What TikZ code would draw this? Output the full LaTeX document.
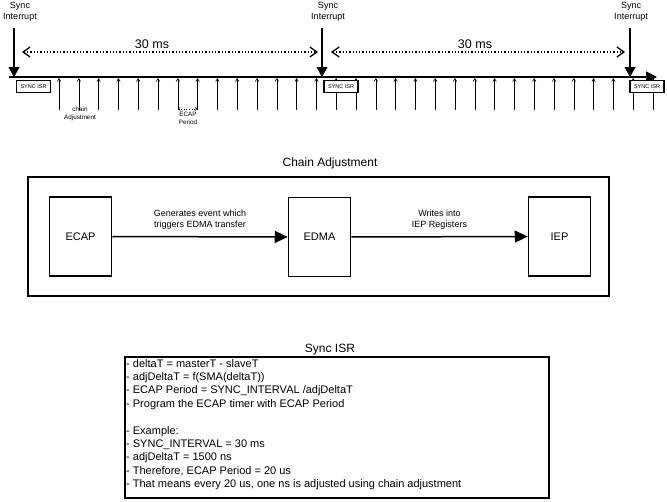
\documentclass[tikz,border=0pt]{standalone}
\usepackage{fontspec}
\setmainfont{Liberation Sans}
\usetikzlibrary{arrows.meta}
\begin{document}
\begin{tikzpicture}[
    x=1pt, y=-1pt,
    box/.style={draw, line width=1.5pt, minimum width=62pt, minimum height=79pt, font=\fontsize{11}{13}\selectfont},
    isrbox/.style={draw, line width=1.3pt, fill=white, minimum width=34pt, minimum height=12pt, inner sep=0pt, font=\fontsize{5.5}{6}\selectfont},
    lbl/.style={align=center, font=\fontsize{9}{11}\selectfont},
    small/.style={align=center, font=\fontsize{6.3}{8.5}\selectfont, inner sep=0pt},
    title/.style={font=\fontsize{12}{14}\selectfont},
    arrow/.style={-{Triangle[length=13pt,width=12pt]}, line width=1.5pt},
    sync/.style={-{Triangle[length=10pt,width=11pt]}, line width=1.3pt},
    tick/.style={-{Straight Barb[length=3pt,width=3.5pt]}, line width=0.6pt},
    span/.style={{Straight Barb[length=7pt,width=10pt]}-{Straight Barb[length=7pt,width=10pt]}, line width=1.3pt, dotted}
]
    \useasboundingbox (0,0) rectangle (667,501);

    % Timeline
    \coordinate (tl0) at (9,77);
    \coordinate (tl1) at (657,77);
    \draw[-{Triangle[length=11pt,width=11pt]}, line width=1.5pt] (tl0) -- (tl1);

    % Chain adjustment ticks
    \foreach \i in {0,...,30} {
        \coordinate (tb\i) at (59+19.8*\i,110);
        \coordinate (tt\i) at (59+19.8*\i,78);
        \draw[tick] (tb\i) -- (tt\i);
    }

    % Sync interrupts
    \node[lbl] (si1) at (20,11.5) {Sync\\Interrupt};
    \node[lbl] (si2) at (328,11.5) {Sync\\Interrupt};
    \node[lbl] (si3) at (631,11.5) {Sync\\Interrupt};
    \coordinate (s1a) at (14,28);
    \coordinate (s1b) at (14,77);
    \coordinate (s2a) at (322,28);
    \coordinate (s2b) at (322,77);
    \coordinate (s3a) at (630,28);
    \coordinate (s3b) at (630,77);
    \draw[sync] (s1a) -- (s1b);
    \draw[sync] (s2a) -- (s2b);
    \draw[sync] (s3a) -- (s3b);

    % Sync ISR marks
    \node[isrbox] (isr1) at (33.5,86.5) {SYNC ISR};
    \node[isrbox] (isr2) at (341,86.5) {SYNC ISR};
    \node[isrbox] (isr3) at (647,86.5) {SYNC ISR};

    % 30 ms intervals
    \coordinate (p1a) at (22,52);
    \coordinate (p1b) at (318,52);
    \coordinate (p2a) at (331,52);
    \coordinate (p2b) at (625,52);
    \draw[span] (p1a) -- (p1b);
    \draw[span] (p2a) -- (p2b);
    \node[font=\fontsize{12.5}{14}\selectfont] (ms1) at (152,44) {30 ms};
    \node[font=\fontsize{12.5}{14}\selectfont] (ms2) at (475,44) {30 ms};

    % Tick labels
    \node[small] (cadj) at (80,114) {chain\\Adjustment};
    \coordinate (ep1) at (tb6 |- 0,109);
    \coordinate (ep2) at (tb7 |- 0,109);
    \draw[{Straight Barb[length=2pt,width=3pt]}-{Straight Barb[length=2pt,width=3pt]}, line width=0.6pt, dotted] (ep1) -- (ep2);
    \node[small] (eper) at (188,118.5) {ECAP\\Period};

    % Chain adjustment block
    \node[title] (chaint) at (330,163) {Chain Adjustment};
    \node[draw, line width=1.5pt, minimum width=581pt, minimum height=119pt] (chain) at (318.5,236.5) {};
    \node[box] (ecap) at (80.5,236.5) {ECAP};
    \node[box] (edma) at (319.5,237) {EDMA};
    \node[box] (iep) at (559.5,236.5) {IEP};
    \draw[arrow] (ecap) -- (edma) node[lbl, midway, above=3pt] {Generates event which\\triggers EDMA transfer};
    \draw[arrow] (edma) -- (iep) node[lbl, midway, above=3pt] {Writes into\\IEP Registers};

    % Sync ISR block
    \node[title] (isrt) at (330,350) {Sync ISR};
    \node[draw, line width=1.5pt, minimum width=424pt, minimum height=141pt] (isr) at (337,427.5) {};
    \node[anchor=north west, align=left, inner sep=0pt, font=\fontsize{11}{13.4}\selectfont] (isrtext) at (126,359) {%
        - deltaT = masterT - slaveT\\
        - adjDeltaT = f(SMA(deltaT))\\
        - ECAP Period = SYNC\_INTERVAL /adjDeltaT\\
        - Program the ECAP timer with ECAP Period\\[13.4pt]
        - Example:\\
        - SYNC\_INTERVAL = 30 ms\\
        - adjDeltaT = 1500 ns\\
        - Therefore, ECAP Period = 20 us\\
        - That means every 20 us, one ns is adjusted using chain adjustment};
\end{tikzpicture}
\end{document}
